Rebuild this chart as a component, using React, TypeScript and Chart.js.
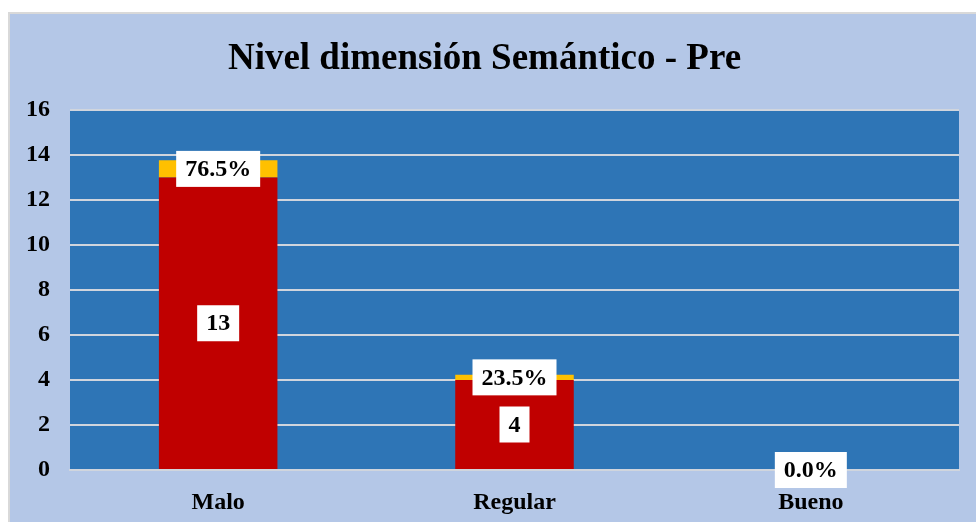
import React, { useEffect, useRef } from "react";
import { Chart, registerables } from "chart.js";

Chart.register(...registerables);

const categories = ["Malo", "Regular", "Bueno"];
const counts = [13, 4, 0];
const percentages = [76.5, 23.5, 0.0];
const yTicks = { min: 0, max: 16, step: 2 };
const titleText = "Nivel dimensión Semántico - Pre";

const FONT = "'Liberation Serif', 'Times New Roman', serif";

const plotBg = {
  id: "plotBg",
  beforeDraw(chart: any) {
    const { ctx, chartArea } = chart;
    if (!chartArea) return;
    ctx.save();
    ctx.fillStyle = "#2E75B6";
    ctx.fillRect(chartArea.left, chartArea.top, chartArea.right - chartArea.left, chartArea.bottom - chartArea.top);
    ctx.restore();
  },
};

const boxLabels = {
  id: "boxLabels",
  afterDatasetsDraw(chart: any) {
    const { ctx } = chart;
    ctx.save();
    ctx.font = `bold 24px ${FONT}`;
    ctx.textAlign = "center";
    ctx.textBaseline = "middle";
    chart.data.datasets.forEach((ds: any, di: number) => {
      const meta = chart.getDatasetMeta(di);
      meta.data.forEach((el: any, i: number) => {
        let text = "";
        if (di === 0) {
          if (counts[i] === 0) return;
          text = String(counts[i]);
        } else {
          text = percentages[i].toFixed(1) + "%";
        }
        const x = el.x;
        const y = (el.y + el.base) / 2;
        const w = ctx.measureText(text).width + 18;
        const h = 36;
        ctx.fillStyle = "#FFFFFF";
        ctx.fillRect(x - w / 2, y - h / 2, w, h);
        ctx.fillStyle = "#000000";
        ctx.fillText(text, x, y + 1);
      });
    });
    ctx.restore();
  },
};

export default function App() {
  const ref = useRef<HTMLCanvasElement | null>(null);
  useEffect(() => {
    if (!ref.current) return;
    const chart = new Chart(ref.current, {
      type: "bar",
      data: {
        labels: categories,
        datasets: [
          {
            label: "Cantidad",
            data: counts,
            backgroundColor: "#C00000",
            categoryPercentage: 1,
            barPercentage: 0.4,
          },
          {
            label: "Porcentaje",
            data: percentages.map((p) => p / 100),
            backgroundColor: "#FFC000",
            categoryPercentage: 1,
            barPercentage: 0.4,
          },
        ],
      },
      options: {
        animation: false,
        responsive: false,
        devicePixelRatio: 1,
        layout: { padding: { left: 0, right: 17, top: 0, bottom: 0 } },
        plugins: {
          legend: { display: false },
          tooltip: { enabled: false },
          title: {
            display: true,
            text: titleText,
            color: "#000000",
            font: { family: FONT, size: 37, weight: "bold", lineHeight: 1.2 },
            padding: { top: 23, bottom: 28.6 },
          },
        },
        scales: {
          x: {
            stacked: true,
            grid: { display: false },
            border: { display: true, color: "#D0D5DD", width: 2 },
            ticks: {
              color: "#000000",
              font: { family: FONT, size: 24, weight: "bold" },
              padding: 10,
            },
            afterFit(scale: any) {
              scale.height = 52;
            },
          },
          y: {
            stacked: true,
            min: yTicks.min,
            max: yTicks.max,
            ticks: {
              stepSize: yTicks.step,
              color: "#000000",
              font: { family: FONT, size: 24, weight: "bold" },
              padding: 20,
            },
            grid: { color: "#D0D5DD", lineWidth: 2, drawTicks: false },
            border: { display: false },
            afterFit(scale: any) {
              scale.width = 60;
            },
          },
        },
      },
      plugins: [plotBg, boxLabels],
    });
    return () => chart.destroy();
  }, []);

  return (
    <div style={{ position: "fixed", left: 0, top: 0, width: 976, height: 522, background: "#FFFFFF" }}>
      <div
        style={{
          position: "absolute",
          left: 8,
          top: 12,
          width: 968,
          height: 510,
          background: "#B4C7E7",
          borderLeft: "2px solid #D9D9D9",
          borderTop: "2px solid #D9D9D9",
          boxSizing: "border-box",
        }}
      >
        <canvas ref={ref} width={966} height={508} style={{ display: "block", width: 966, height: 508 }} />
      </div>
    </div>
  );
}
